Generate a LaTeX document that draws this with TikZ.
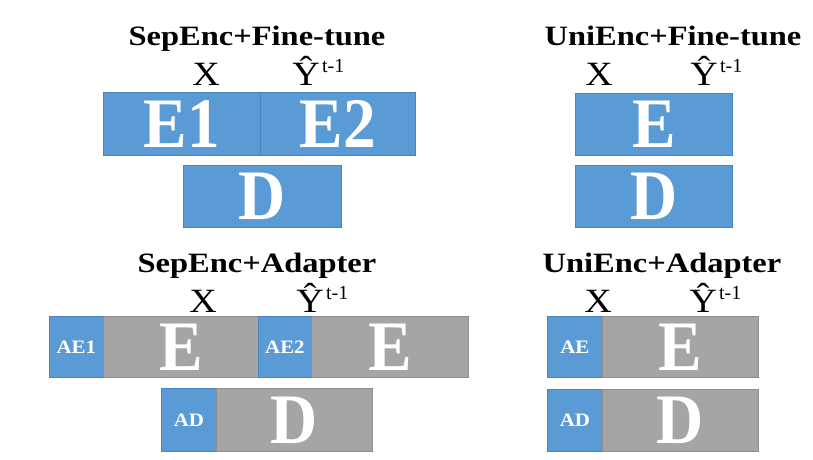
\documentclass[tikz,border=0pt]{standalone}
\usepackage{fontspec}
\setmainfont{Liberation Serif}
\definecolor{blk}{HTML}{5B9BD5}
\definecolor{blkedge}{HTML}{4A84BC}
\definecolor{grk}{HTML}{A5A5A5}
\definecolor{grkedge}{HTML}{8E8E8E}
\newcommand\wider[2]{\scalebox{#1}[1]{#2}}
\tikzset{
  title/.style={anchor=base, inner sep=0pt, font=\fontsize{28}{28}\selectfont\bfseries},
  inlab/.style={anchor=base, inner sep=0pt, font=\fontsize{34}{34}\selectfont},
  suplab/.style={anchor=base west, inner sep=0pt, font=\fontsize{20}{20}\selectfont},
  bluebox/.style={draw=blkedge, fill=blk, line width=0.8pt, inner sep=0pt, text=white},
  graybox/.style={draw=grkedge, fill=grk, line width=0.8pt, inner sep=0pt, text=white},
  big/.style={font=\fontsize{71}{71}\selectfont\bfseries},
  small/.style={font=\fontsize{19}{19}\selectfont\bfseries},
}
% a box spanning x1..x2 (left to right), y1..y2 (top to bottom)
\newcommand\blockat[7]{%
  \node[#1, minimum width=#4pt-#3pt, minimum height=#6pt-#5pt, anchor=north west]
    (#2) at (#3,#5) {#7};}
\newcommand\bigtxt[1]{\raisebox{-2pt}{\wider{0.92}{#1}}}
\begin{document}
\begin{tikzpicture}[x=1pt,y=-1pt]
\useasboundingbox (0,0) rectangle (813,459);
\fill[white] (0,0) rectangle (813,459);

% ---------------- SepEnc + Fine-tune ----------------
\node[title] (t1) at (257,45) {\wider{1.16}{SepEnc+Fine-tune}};
\node[inlab] (x1) at (206,85) {\wider{1.12}{X}};
\node[inlab] (y1) at (306,85) {\wider{1.12}{Ŷ}};
\node[suplab] (s1) at ([xshift=2pt,yshift=13pt]y1.base east) {t-1};
\blockat{bluebox,big}{e1}{103}{260}{92}{155}{\bigtxt{E1}}
\blockat{bluebox,big}{e2}{260}{415}{92}{155}{\bigtxt{E2}}
\blockat{bluebox,big}{d1}{183}{341}{165}{227}{\bigtxt{D}}

% ---------------- UniEnc + Fine-tune ----------------
\node[title] (t2) at (673,45) {\wider{1.16}{UniEnc+Fine-tune}};
\node[inlab] (x2) at (599,85) {\wider{1.12}{X}};
\node[inlab] (y2) at (704,85) {\wider{1.12}{Ŷ}};
\node[suplab] (s2) at ([xshift=2pt,yshift=13pt]y2.base east) {t-1};
\blockat{bluebox,big}{e3}{575}{732}{93}{155}{\bigtxt{E}}
\blockat{bluebox,big}{d2}{575}{732}{165}{227}{\bigtxt{D}}

% ---------------- SepEnc + Adapter ----------------
\node[title] (t3) at (257,272) {\wider{1.16}{SepEnc+Adapter}};
\node[inlab] (x3) at (203,312) {\wider{1.12}{X}};
\node[inlab] (y3) at (310,312) {\wider{1.12}{Ŷ}};
\node[suplab] (s3) at ([xshift=2pt,yshift=13pt]y3.base east) {t-1};
\blockat{bluebox,small}{ae1}{49}{103}{316}{377}{\wider{1.1}{AE1}}
\blockat{graybox,big}{ge1}{103}{258}{316}{377}{\bigtxt{E}}
\blockat{bluebox,small}{ae2}{258}{311}{316}{377}{\wider{1.1}{AE2}}
\blockat{graybox,big}{ge2}{311}{468}{316}{377}{\bigtxt{E}}
\blockat{bluebox,small}{ad1}{161}{216}{388}{451}{\wider{1.1}{AD}}
\blockat{graybox,big}{gd1}{216}{372}{388}{451}{\bigtxt{D}}

% ---------------- UniEnc + Adapter ----------------
\node[title] (t4) at (662,272) {\wider{1.16}{UniEnc+Adapter}};
\node[inlab] (x4) at (598,312) {\wider{1.12}{X}};
\node[inlab] (y4) at (703,312) {\wider{1.12}{Ŷ}};
\node[suplab] (s4) at ([xshift=2pt,yshift=13pt]y4.base east) {t-1};
\blockat{bluebox,small}{ae3}{547}{602}{316}{377}{\wider{1.1}{AE}}
\blockat{graybox,big}{ge3}{602}{758}{316}{377}{\bigtxt{E}}
\blockat{bluebox,small}{ad2}{547}{602}{389}{451}{\wider{1.1}{AD}}
\blockat{graybox,big}{gd2}{602}{758}{389}{451}{\bigtxt{D}}
\end{tikzpicture}
\end{document}
